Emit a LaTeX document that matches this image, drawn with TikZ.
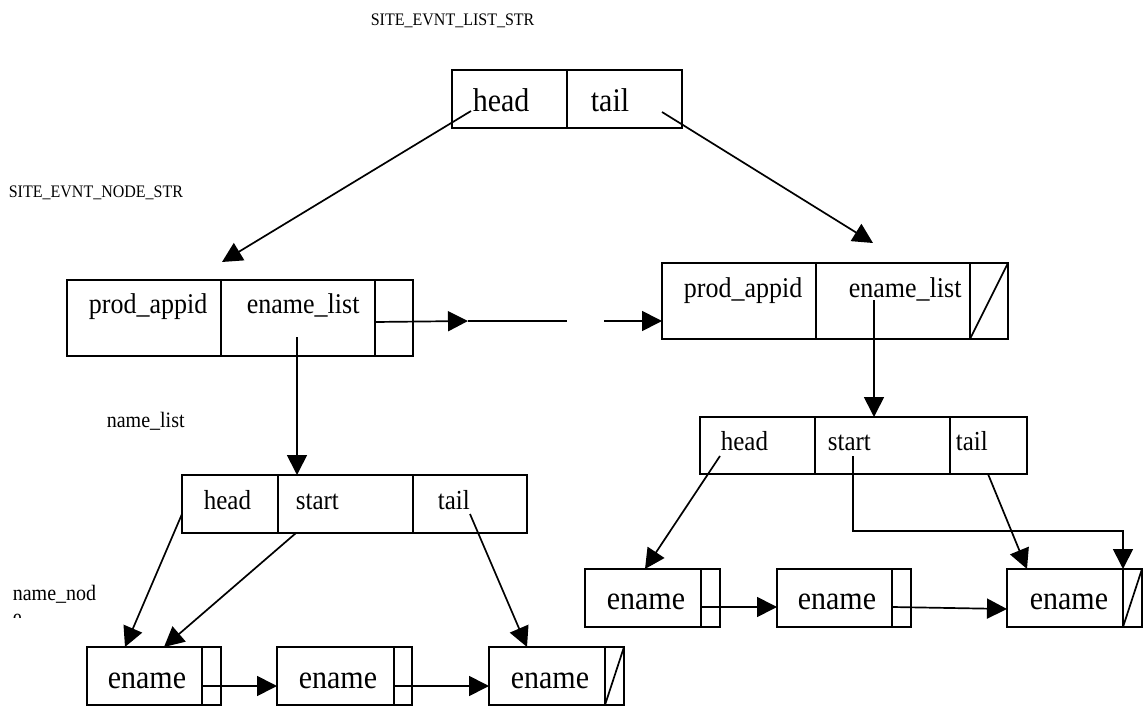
\documentclass[tikz,border=0pt]{standalone}
\usepackage{fontspec}
\setmainfont{Liberation Serif}
\usetikzlibrary{arrows.meta,fit}
\begin{document}
\begin{tikzpicture}[x=0.5pt,y=-0.5pt,line width=0.85pt,
  cell/.style={draw,rectangle,inner sep=0pt,outer sep=0pt},
  ptr/.style={-{Triangle[length=10pt,width=10pt]}},
  txt/.style={anchor=base west,inner sep=0pt,yscale=1.1,transform shape},
  big/.style={txt,font=\fontsize{15}{18}\selectfont},
  mid/.style={txt,font=\fontsize{13}{16}\selectfont},
  small/.style={txt,font=\fontsize{12.5}{15}\selectfont},
  tag/.style={txt,font=\fontsize{10}{12}\selectfont},
  title/.style={txt,font=\fontsize{8}{10}\selectfont}]
\useasboundingbox (0,0) rectangle (1147,706);

% ---- list header: head | tail
\node[cell,fit={(452,70)(567,128)}] (t1) {};
\node[cell,fit={(567,70)(682,128)}] (t2) {};
\node[big] (t1txt) at (472,112) {head};
\node[big] (t2txt) at (590,112) {tail};
\node[title] (lsttitle) at (370,26) {SITE\_EVNT\_LIST\_STR};
\node[title] (ndtitle) at (8,198) {SITE\_EVNT\_NODE\_STR};

% ---- first event node
\node[cell,fit={(67,280)(221,356)}] (l1) {};
\node[cell,fit={(221,280)(375,356)}] (l2) {};
\node[cell,fit={(375,280)(413,356)}] (l3) {};
\node[mid] (l1txt) at (88,314) {prod\_appid};
\node[mid] (l2txt) at (246,314) {ename\_list};

% ---- last event node (null next)
\node[cell,fit={(662,263)(816,339)}] (r1) {};
\node[cell,fit={(816,263)(970,339)}] (r2) {};
\node[cell,fit={(970,263)(1008,339)}] (r3) {};
\draw (r3.south west) -- (r3.north east);
\node[mid] (r1txt) at (683,298) {prod\_appid};
\node[mid] (r2txt) at (848,298) {ename\_list};

% ---- name lists
\node[tag] (nlist) at (106,427) {name\_list};
\node[cell,fit={(182,475)(278,533)}] (ll1) {};
\node[cell,fit={(278,475)(413,533)}] (ll2) {};
\node[cell,fit={(413,475)(527,533)}] (ll3) {};
\node[small] (ll1txt) at (203,509) {head};
\node[small] (ll2txt) at (295,509) {start};
\node[small] (ll3txt) at (437,509) {tail};

\node[cell,fit={(700,417)(815,474)}] (rl1) {};
\node[cell,fit={(815,417)(950,474)}] (rl2) {};
\node[cell,fit={(950,417)(1027,474)}] (rl3) {};
\node[small] (rl1txt) at (720,450) {head};
\node[small] (rl2txt) at (827,450) {start};
\node[small] (rl3txt) at (955,450) {tail};

% ---- name nodes
\node[tag] (nnode) at (12,600) {name\_nod};
\begin{scope}
  \clip (0,560) rectangle (120,617);
  \node[tag] (nnodee) at (12,624) {e};
\end{scope}

\node[cell,fit={(87,647)(202,705)}] (le1a) {};
\node[cell,fit={(202,647)(221,705)}] (le1b) {};
\node[cell,fit={(277,647)(394,705)}] (le2a) {};
\node[cell,fit={(394,647)(412,705)}] (le2b) {};
\node[cell,fit={(489,647)(605,705)}] (le3a) {};
\node[cell,fit={(605,647)(624,705)}] (le3b) {};
\draw (le3b.south west) -- (le3b.north east);
\node[big] (le1txt) at (107,688) {ename};
\node[big] (le2txt) at (298,688) {ename};
\node[big] (le3txt) at (510,688) {ename};

\node[cell,fit={(585,569)(701,627)}] (re1a) {};
\node[cell,fit={(701,569)(720,627)}] (re1b) {};
\node[cell,fit={(777,569)(892,627)}] (re2a) {};
\node[cell,fit={(892,569)(911,627)}] (re2b) {};
\node[cell,fit={(1007,569)(1123,627)}] (re3a) {};
\node[cell,fit={(1123,569)(1142,627)}] (re3b) {};
\draw (re3b.south west) -- (re3b.north east);
\node[big] (re1txt) at (606,609) {ename};
\node[big] (re2txt) at (797,609) {ename};
\node[big] (re3txt) at (1029,609) {ename};

% ---- pointer endpoints
\coordinate (hd0) at (471,111);
\coordinate (hd1) at (222,262);
\coordinate (tl0) at (662,112);
\coordinate (tl1) at (873,243);
\coordinate (nx0) at (375,322);
\coordinate (nx1) at (468,321);
\coordinate (nx2) at (567,321);
\coordinate (nx3) at (604,321);
\coordinate (nx4) at (662,321);
\coordinate (el0) at (297,337);
\coordinate (el1) at (297,475);
\coordinate (er0) at (874,300);
\coordinate (er1) at (874,417);
\coordinate (lh0) at (182,514);
\coordinate (lh1) at (125,647);
\coordinate (ls0) at (296,533);
\coordinate (ls1) at (164,647);
\coordinate (lt0) at (470,514);
\coordinate (lt1) at (527,647);
\coordinate (rh0) at (720,456);
\coordinate (rh1) at (645,569);
\coordinate (rs0) at (853,456);
\coordinate (rs1) at (853,531);
\coordinate (rs2) at (1123,531);
\coordinate (rs3) at (1123,569);
\coordinate (rt0) at (988,474);
\coordinate (rt1) at (1027,569);
\coordinate (la0) at (202,686);
\coordinate (la1) at (277,686);
\coordinate (lb0) at (394,686);
\coordinate (lb1) at (489,686);
\coordinate (ra0) at (701,607);
\coordinate (ra1) at (777,607);
\coordinate (rb0) at (892,607);
\coordinate (rb1) at (1007,609);

% ---- pointers
\draw[ptr] (hd0) -- (hd1);
\draw[ptr] (tl0) -- (tl1);
\draw[ptr] (nx0) -- (nx1);
\draw (nx1) -- (nx2);
\draw[ptr] (nx3) -- (nx4);
\draw[ptr] (el0) -- (el1);
\draw[ptr] (er0) -- (er1);
\draw[ptr] (lh0) -- (lh1);
\draw[ptr] (ls0) -- (ls1);
\draw[ptr] (lt0) -- (lt1);
\draw[ptr] (rh0) -- (rh1);
\draw[ptr] (rs0) -- (rs1) -- (rs2) -- (rs3);
\draw[ptr] (rt0) -- (rt1);
\draw[ptr] (la0) -- (la1);
\draw[ptr] (lb0) -- (lb1);
\draw[ptr] (ra0) -- (ra1);
\draw[ptr] (rb0) -- (rb1);
\end{tikzpicture}
\end{document}
